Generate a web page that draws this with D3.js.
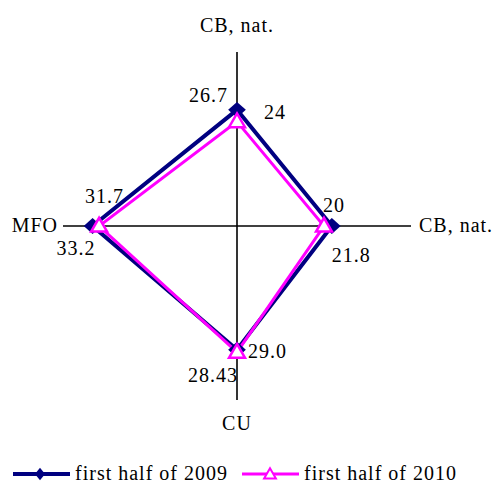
<!DOCTYPE html>
<html>
<head>
<meta charset="utf-8">
<script src="https://cdn.jsdelivr.net/npm/d3@7"></script>
<style>
  body { margin: 0; background: #fff; }
  svg text { font-family: "Times New Roman", "Liberation Serif", "DejaVu Serif", serif; font-size: 20px; letter-spacing: 1px; fill: #000; }
</style>
</head>
<body>
<svg id="radar" width="494" height="484"></svg>
<script>
const axes = ["CB, nat.", "CB, nat.", "CU", "MFO"]; // top, right, bottom, left
const seriesNames = ["first half of 2009", "first half of 2010"];
const values2009 = [26.7, 21.8, 28.43, 33.2];
const values2010 = [24, 20, 29.0, 31.7];
const labels2009 = ["26.7", "21.8", "28.43", "33.2"];
const labels2010 = ["24", "20", "29.0", "31.7"];

const cx = 237, cy = 226;
const r = d3.scaleLinear().domain([0, 40]).range([0, 174]);
const angles = [-Math.PI / 2, 0, Math.PI / 2, Math.PI];

const svg = d3.select("#radar");

function pt(i, v) {
    return [cx + Math.cos(angles[i]) * r(v), cy + Math.sin(angles[i]) * r(v)];
}

// axes
angles.forEach((a, i) => {
    const [x, y] = pt(i, 40);
    svg.append("line")
        .attr("x1", cx).attr("y1", cy).attr("x2", x).attr("y2", y)
        .attr("stroke", "#000").attr("stroke-width", 1.6);
});

// axis titles
const titlePos = [
    { x: cx, y: 32, anchor: "middle" },
    { x: 419, y: 232, anchor: "start" },
    { x: cx, y: 430, anchor: "middle" },
    { x: 58, y: 232, anchor: "end" }
];
axes.forEach((t, i) => {
    svg.append("text")
        .attr("x", titlePos[i].x).attr("y", titlePos[i].y)
        .attr("text-anchor", titlePos[i].anchor)
        .text(t);
});

const line = d3.line().curve(d3.curveLinearClosed);
const diamond = d3.symbol().type(d3.symbolDiamond2);
const triangle = d3.symbol().type(d3.symbolTriangle);

// 2009 series
const p09 = values2009.map((v, i) => pt(i, v));
svg.append("path").attr("d", line(p09))
    .attr("fill", "none").attr("stroke", "#000080").attr("stroke-width", 4)
    .attr("stroke-linejoin", "miter");

// 2010 series
const p10 = values2010.map((v, i) => pt(i, v));
svg.append("path").attr("d", line(p10))
    .attr("fill", "none").attr("stroke", "#ff00ff").attr("stroke-width", 3)
    .attr("stroke-linejoin", "miter");

p09.forEach(p => {
    svg.append("path").attr("d", diamond.size(200)())
        .attr("transform", `translate(${p[0]},${p[1]}) scale(1,0.9)`)
        .attr("fill", "#000080");
});
p10.forEach(p => {
    svg.append("path").attr("d", triangle.size(110)())
        .attr("transform", `translate(${p[0]},${p[1] + 1})`)
        .attr("fill", "#fff").attr("stroke", "#ff00ff").attr("stroke-width", 2.5);
});

// value labels (offsets from marker)
const off09 = [[-9, -8, "end"], [0, 36, "start"], [1, 32, "end"], [-36, 29, "start"]];
const off10 = [[27, -3, "start"], [-1, -14, "start"], [11, 6, "start"], [-14, -23, "start"]];
labels2009.forEach((t, i) => {
    svg.append("text")
        .attr("x", p09[i][0] + off09[i][0]).attr("y", p09[i][1] + off09[i][1])
        .attr("text-anchor", off09[i][2]).text(t);
});
labels2010.forEach((t, i) => {
    svg.append("text")
        .attr("x", p10[i][0] + off10[i][0]).attr("y", p10[i][1] + off10[i][1])
        .attr("text-anchor", off10[i][2]).text(t);
});

// legend
const legend = [
    { x: 13, color: "#000080", w: 4, sym: "d" },
    { x: 242, color: "#ff00ff", w: 3, sym: "t" }
];
legend.forEach((l, i) => {
    const g = svg.append("g").attr("transform", `translate(${l.x},474)`);
    g.append("line").attr("x1", 0).attr("x2", 57).attr("y1", 0).attr("y2", 0)
        .attr("stroke", l.color).attr("stroke-width", l.w);
    if (l.sym === "d") {
        g.append("path").attr("d", diamond.size(80)())
            .attr("transform", "translate(27,0) scale(0.9,1.1)").attr("fill", l.color);
    } else {
        g.append("path").attr("d", triangle.size(60)())
            .attr("transform", "translate(28,1)")
            .attr("fill", "#fff").attr("stroke", l.color).attr("stroke-width", 2);
    }
    g.append("text").attr("x", 62).attr("y", 6).text(seriesNames[i]);
});
</script>
</body>
</html>
